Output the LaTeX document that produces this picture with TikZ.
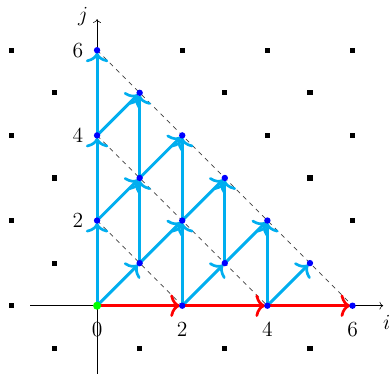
\documentclass[tikz,border=0pt]{standalone}
\usepackage{amsmath,amssymb}
\usepackage{tikz}
\usetikzlibrary{arrows,arrows.meta,positioning,calc}
\definecolor{latcyan}{RGB}{0,174,239}

\begin{document}
\begin{tikzpicture}[x=1cm,y=1cm,
	jump/.style={-{To[length=6.5pt,width=15pt,line width=1.8pt]}, shorten >=1.5pt, line width=2pt, latcyan},
	shift arrow/.style={-{To[length=6.5pt,width=15pt,line width=1.8pt]}, shorten >=1.5pt, line width=2pt, red},
	level line/.style={dashed, black!75, line width=0.5pt},
	ticklabel/.style={font=\Large, inner sep=0pt}]
	\useasboundingbox (-2.28,-1.6) rectangle (6.88,7.18);
	% points of the lattice
	\foreach \i in {0,...,6} {
		\foreach \j in {0,...,6} {
			\coordinate (v\i\j) at (\i,\j);
		}
	}
	% outer lattice marks
	\foreach \i in {-2,...,6} {
		\foreach \j in {-1,...,6} {
			\pgfmathtruncatemacro{\parity}{mod(\i+\j+20,2)}
			\pgfmathtruncatemacro{\inside}{and(\i>=0, and(\j>=0, \i+\j<=6))}
			\ifnum\parity=0 \ifnum\inside=0
				\fill (\i,\j) +(-0.06,-0.06) rectangle +(0.06,0.06);
			\fi\fi
		}
	}
	% axes
	\coordinate (xfrom) at (-1.57,0);
	\coordinate (xto) at (6.72,0);
	\coordinate (yfrom) at (0,-1.6);
	\coordinate (yto) at (0,6.73);
	\draw[->] (xfrom) -- (xto);
	\draw[->] (yfrom) -- (yto);
	\node[font=\Large] (ilabel) at (6.8,-0.4) {$i$};
	\node[font=\Large] (jlabel) at (-0.33,6.78) {$j$};
	\foreach \k in {0,2,4,6} {
		\node[ticklabel] (xt\k) at (\k,-0.55) {$\k$};
	}
	\foreach \k in {2,4,6} {
		\node[ticklabel] (yt\k) at (-0.45,\k) {$\k$};
	}
	% levels
	\foreach \k in {2,4,6} {
		\draw[level line] (v0\k) -- (v\k0);
	}
	% moves
	\foreach \i in {0,...,4} {
		\foreach \j in {0,...,4} {
			\pgfmathtruncatemacro{\parity}{mod(\i+\j,2)}
			\pgfmathtruncatemacro{\lvl}{\i+\j}
			\pgfmathtruncatemacro{\ii}{\i+1}
			\pgfmathtruncatemacro{\jj}{\j+1}
			\pgfmathtruncatemacro{\jjj}{\j+2}
			\ifnum\parity=0 \ifnum\lvl<5
				\draw[jump] (v\i\j) -- (v\i\jjj);
				\draw[jump] (v\i\j) -- (v\ii\jj);
			\fi\fi
		}
	}
	\draw[shift arrow] (v00) -- (v20);
	\draw[shift arrow] (v20) -- (v40);
	\draw[shift arrow] (v40) -- (v60);
	% dots
	\foreach \i in {0,...,6} {
		\foreach \j in {0,...,6} {
			\pgfmathtruncatemacro{\parity}{mod(\i+\j,2)}
			\pgfmathtruncatemacro{\lvl}{\i+\j}
			\ifnum\parity=0 \ifnum\lvl<7
				\fill[blue] (v\i\j) circle (0.075);
			\fi\fi
		}
	}
	\fill[green] (v00) circle (0.095);
\end{tikzpicture}
\end{document}
